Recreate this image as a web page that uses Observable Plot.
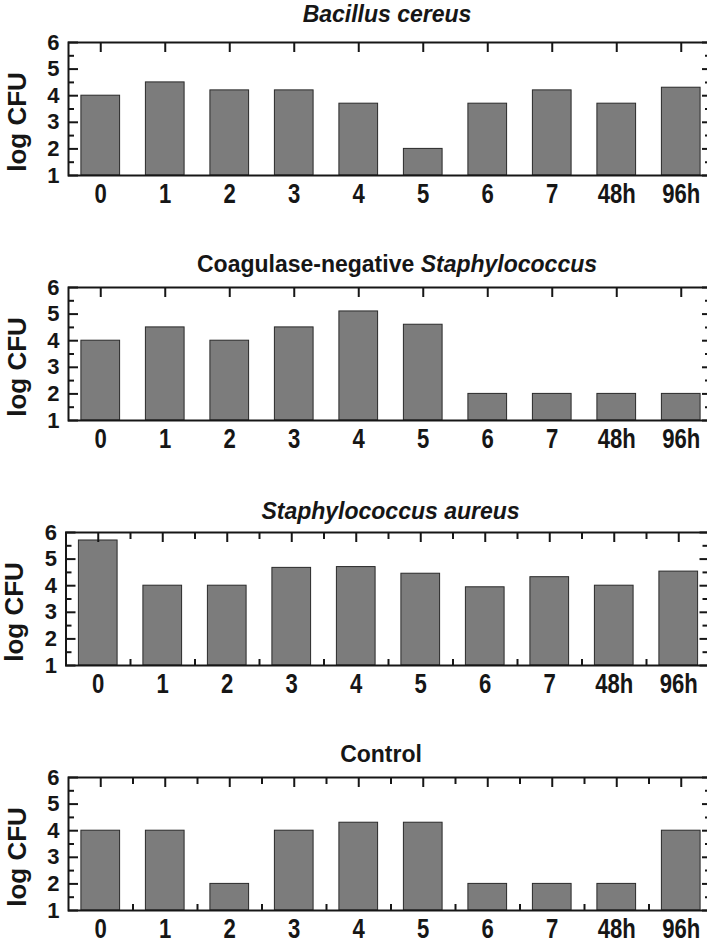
<!DOCTYPE html>
<html><head><meta charset="utf-8">
<script src="https://cdn.jsdelivr.net/npm/d3@7"></script>
<script src="https://cdn.jsdelivr.net/npm/@observablehq/plot@0.6"></script>
<style>
html,body{margin:0;padding:0;background:#fff;overflow:hidden}
#fig{width:707px;height:943px;overflow:hidden;position:relative;background:#fff}
#fig svg{display:block;max-width:none;overflow:hidden}
</style></head><body><div id="fig"></div>
<script>
// ---- data ----
const categories = ["0", "1", "2", "3", "4", "5", "6", "7", "48h", "96h"];
const bacillusCereus = [4.0, 4.5, 4.2, 4.2, 3.7, 2.0, 3.7, 4.2, 3.7, 4.3];
const coagNegStaphylococcus = [4.0, 4.5, 4.0, 4.5, 5.1, 4.6, 2.0, 2.0, 2.0, 2.0];
const staphylococcusAureus = [5.7, 4.0, 4.0, 4.67, 4.7, 4.45, 3.94, 4.32, 4.0, 4.53];
const control = [4.0, 4.0, 2.0, 4.0, 4.3, 4.3, 2.0, 2.0, 2.0, 4.0];
const panelTitles = [
  [{t: "Bacillus cereus", i: true}],
  [{t: "Coagulase-negative ", i: false}, {t: "Staphylococcus", i: true}],
  [{t: "Staphylococcus aureus", i: true}],
  [{t: "Control", i: false}]
];
const yTickValues = [1, 2, 3, 4, 5, 6];
const yMinorValues = [1.5, 2.5, 3.5, 4.5, 5.5];
const yDomain = [1, 6];
const yAxisLabel = "log CFU";
const seriesList = [bacillusCereus, coagNegStaphylococcus, staphylococcusAureus, control];

// ---- layout (styles only) ----
const layouts = [
  {h: 245, ml: 68,   tdx: -4,  tdy: -28, minor: false},
  {h: 245, ml: 68,   tdx: 6,   tdy: -23, minor: false},
  {h: 245, ml: 65.5, tdx: 2,   tdy: -21, minor: true},
  {h: 208, ml: 68,   tdx: -10, tdy: -23, minor: true}
];
const ink = "#161616";
const W = 720, FW = 645, FH = 133, MT = 42;
const font = "'Liberation Sans', Arial, Helvetica, sans-serif";
const XFS = 27, YFS = 22, LFS = 26, TFS = 23;
const PI = 0.4, PO = 0.2;

function panel(values, title, lay) {
  const data = categories.map((c, i) => ({cat: c, v: values[i]}));
  const step = FW / (categories.length - PI + 2 * PO);
  const mids = categories.slice(0, -1);
  const tk = {stroke: ink, strokeWidth: 2};
  const marks = [
    Plot.barY(data, {x: "cat", y1: () => yDomain[0], y2: "v", fill: "#7c7c7c", stroke: "#2a2a2a", strokeWidth: 1}),
    Plot.tickX(categories, {x: d => d, insetBottom: FH - 10, ...tk}),
    Plot.tickY(yTickValues, {y: d => d, insetRight: FW - 10, ...tk}),
    Plot.tickY(yMinorValues, {y: d => d, insetRight: FW - 6, ...tk}),
    Plot.tickY(yTickValues, {y: d => d, insetLeft: FW - 11, ...tk}),
    Plot.tickY(yMinorValues, {y: d => d, insetLeft: FW - 8, ...tk})
  ];
  if (lay.minor) {
    marks.push(Plot.tickX(mids, {x: d => d, dx: step / 2, insetBottom: FH - 7, ...tk}));
    marks.push(Plot.tickX(mids, {x: d => d, dx: step / 2, insetTop: FH - 6, ...tk}));
  }
  marks.push(
    Plot.frame({stroke: ink, strokeWidth: 2}),
    Plot.text(categories, {x: d => d, text: d => d, frameAnchor: "bottom", dy: 19, lineAnchor: "middle",
      textAnchor: "middle", fontSize: XFS, fontWeight: "bold", fill: ink}),
    Plot.text(yTickValues, {y: d => d, text: d => String(d), frameAnchor: "left", dx: -9, textAnchor: "end",
      lineAnchor: "middle", fontSize: YFS, fontWeight: "bold", fill: ink}),
    Plot.text([yAxisLabel], {text: d => d, frameAnchor: "left", dx: -51, dy: 13, rotate: -90,
      textAnchor: "middle", lineAnchor: "middle", fontSize: LFS, fontWeight: "bold", fill: ink}),
    Plot.text([title.map(s => s.t).join("")], {text: d => d, frameAnchor: "top", dx: lay.tdx, dy: lay.tdy,
      textAnchor: "middle", lineAnchor: "middle", fontSize: TFS, fontWeight: "bold", fill: ink})
  );
  const svg = Plot.plot({
    width: W, height: lay.h,
    marginTop: MT, marginLeft: lay.ml, marginRight: W - lay.ml - FW, marginBottom: lay.h - MT - FH,
    style: {fontFamily: font, background: "#fff", overflow: "hidden"},
    x: {type: "band", domain: categories, paddingInner: PI, paddingOuter: PO, round: false, axis: null},
    y: {domain: yDomain, axis: null},
    marks
  });
  // mixed italic title
  const tn = svg.querySelector(`g[font-size="${TFS}"] text`);
  if (tn) {
    tn.textContent = "";
    for (const seg of title) {
      const ts = document.createElementNS("http://www.w3.org/2000/svg", "tspan");
      ts.textContent = seg.t;
      if (seg.i) ts.setAttribute("font-style", "italic");
      tn.appendChild(ts);
    }
  }
  // condensed x tick labels
  svg.querySelectorAll(`g[font-size="${XFS}"] text`).forEach(t => {
    const tr = t.getAttribute("transform") || "";
    t.setAttribute("transform", tr + " scale(0.82,1)");
  });
  return svg;
}

const fig = document.getElementById("fig");
seriesList.forEach((vals, k) => fig.appendChild(panel(vals, panelTitles[k], layouts[k])));
</script>
</body></html>
